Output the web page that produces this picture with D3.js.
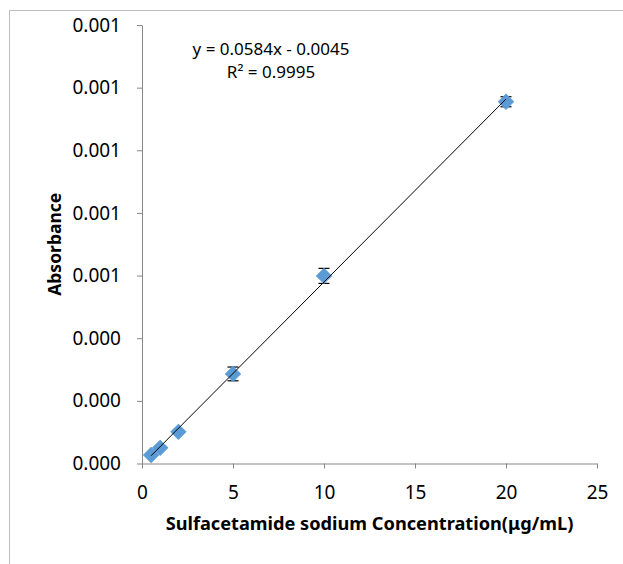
<!DOCTYPE html>
<html>
<head>
<meta charset="utf-8">
<script src="https://cdn.jsdelivr.net/npm/d3@7"></script>
<style>
  body { margin: 0; background: #fff; }
  svg { display: block; font-family: "Noto Sans", "Open Sans", sans-serif; }
</style>
</head>
<body>
<svg id="chart" width="623" height="564"></svg>
<script>
// concentrations (µg/mL) and absorbance
const concentration = [0.5, 1, 2, 5, 10, 20];
const absorbance = [0.000027, 0.000050, 0.000101, 0.000286, 0.000599, 0.001155];
const errors = [0.000004, 0.000004, 0.000005, 0.000022, 0.000024, 0.000016];
const xTicks = [0, 5, 10, 15, 20, 25];
const yTicks = [0, 0.0002, 0.0004, 0.0006, 0.0008, 0.001, 0.0012, 0.0014];
// trendline, as printed (axis units are 1e-3 of the equation's)
const slope = 0.0584e-3, intercept = -0.0045e-3;
const eqLines = ["y = 0.0584x - 0.0045", "R² = 0.9995"];

const svg = d3.select('#chart');
const plotLeft = 142, plotRight = 597, plotTop = 25, plotBottom = 463.5;

// outer chart-area border
svg.append('rect')
  .attr('x', 9.5).attr('y', 10.5)
  .attr('width', 700).attr('height', 700)
  .attr('fill', 'none').attr('stroke', '#bfbfbf');

const x = d3.scaleLinear().domain([0, 25]).range([plotLeft, plotRight]);
const y = d3.scaleLinear().domain([0, 0.0014]).range([plotBottom, plotTop]);

const xAxis = svg.append('g')
  .attr('transform', `translate(0,${plotBottom})`)
  .call(d3.axisBottom(x).tickValues(xTicks).tickSize(5).tickPadding(17).tickSizeOuter(0));
const yAxis = svg.append('g')
  .attr('transform', `translate(${plotLeft},0)`)
  .call(d3.axisLeft(y).tickValues(yTicks).tickFormat(d3.format('.3f')).tickSize(5).tickPadding(16).tickSizeOuter(0));

[xAxis, yAxis].forEach(g => {
  g.select('.domain').attr('stroke', '#868686');
  g.selectAll('.tick line').attr('stroke', '#868686');
  g.selectAll('.tick text').attr('fill', '#000').attr('font-size', 19)
    .attr('font-family', '"Noto Sans", sans-serif');
});

// error bars
const eb = svg.append('g').attr('stroke', '#000').attr('stroke-width', 1.2);
concentration.forEach((c, i) => {
  const cx = x(c), y1 = y(absorbance[i] + errors[i]), y2 = y(absorbance[i] - errors[i]);
  eb.append('line').attr('x1', cx).attr('x2', cx).attr('y1', y1).attr('y2', y2);
  eb.append('line').attr('x1', cx - 5.5).attr('x2', cx + 5.5).attr('y1', y1).attr('y2', y1);
  eb.append('line').attr('x1', cx - 5.5).attr('x2', cx + 5.5).attr('y1', y2).attr('y2', y2);
});

// diamond markers
const diamond = d3.symbol().type(d3.symbolSquare).size(112);
svg.append('g')
  .selectAll('path')
  .data(concentration)
  .join('path')
    .attr('d', diamond)
    .attr('transform', (d, i) => `translate(${x(d)},${y(absorbance[i])}) rotate(45)`)
    .attr('fill', '#5b9bd5')
    .attr('stroke', '#5b9bd5')
    .attr('stroke-width', 1);

// linear trendline over data range
const xMin = d3.min(concentration), xMax = d3.max(concentration);
svg.append('line')
  .attr('x1', x(xMin)).attr('y1', y(slope * xMin + intercept))
  .attr('x2', x(xMax)).attr('y2', y(slope * xMax + intercept))
  .attr('stroke', '#000').attr('stroke-width', 1);

// equation label
svg.append('text')
  .attr('text-anchor', 'middle')
  .attr('font-size', 17)
  .selectAll('tspan')
  .data(eqLines)
  .join('tspan')
    .attr('x', 271)
    .attr('y', (d, i) => 55 + i * 23)
    .text(d => d);

// axis titles
svg.append('text')
  .attr('x', (plotLeft + plotRight) / 2).attr('y', 530)
  .attr('text-anchor', 'middle')
  .attr('font-weight', 'bold').attr('font-size', 18.2)
  .text('Sulfacetamide sodium Concentration(μg/mL)');

svg.append('text')
  .attr('transform', `translate(61,${(plotTop + plotBottom) / 2}) rotate(-90)`)
  .attr('text-anchor', 'middle')
  .attr('font-weight', 'bold').attr('font-size', 17.5)
  .text('Absorbance');
</script>
</body>
</html>
